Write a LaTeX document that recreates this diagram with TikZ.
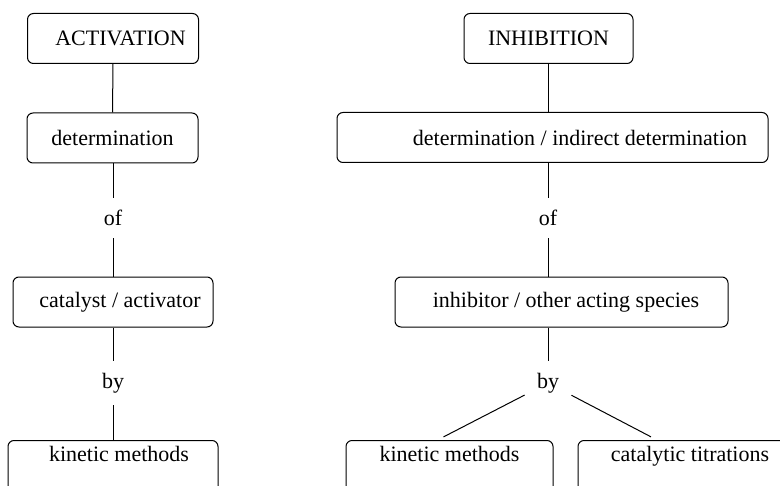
\documentclass[tikz,border=0pt]{standalone}
\usepackage{fontspec}
\setmainfont{Liberation Serif}
\tikzset{
  box/.style={draw, rounded corners=3pt, line width=0.5pt, minimum height=25pt, inner sep=2pt},
  openbox/.style={box, anchor=north, text height=8.5pt, text depth=30pt},
  word/.style={inner sep=6pt},
  link/.style={line width=0.5pt}
}
\begin{document}
\begin{tikzpicture}[x=0.5pt, y=-0.5pt, font=\fontsize{11}{13}\selectfont]
  \useasboundingbox (0,0) rectangle (780,486);
  \clip (0,0) rectangle (780,486);
  % activation side
  \node[box, minimum width=85.5pt] (act) at (113,38.5) {\hspace*{7.5pt}ACTIVATION};
  \node[box, minimum width=85.5pt] (detl) at (112.5,138) {determination};
  \node[word] (ofl) at (113,218) {of};
  \node[box, minimum width=100pt] (cat) at (113,302) {\hspace*{7pt}catalyst / activator};
  \node[word] (byl) at (113,383) {by};
  \node[openbox, minimum width=105pt] (kinl) at (113,440) {\hspace*{6pt}kinetic methods};
  % inhibition side
  \node[box, minimum width=84.5pt] (inh) at (548.5,38.5) {INHIBITION};
  \node[box, minimum width=215.5pt] (detr) at (552.5,137.5) {\hspace*{27.5pt}determination / indirect determination};
  \node[word] (ofr) at (548,218) {of};
  \node[box, minimum width=166.5pt] (inhib) at (561.5,302) {\hspace*{4.5pt}inhibitor / other acting species};
  \node[word] (byr) at (548,383) {by};
  \node[openbox, minimum width=103.5pt] (kinr) at (449.5,440) {kinetic methods};
  \node[openbox, minimum width=112pt] (tit) at (690,440) {catalytic titrations};
  % connectors
  \draw[link] (act) -- (detl);
  \draw[link] (detl.south -| ofl) -- (ofl);
  \draw[link] (ofl) -- (cat);
  \draw[link] (cat) -- (byl);
  \draw[link] (byl) -- (kinl);
  \draw[link] (inh) -- (detr.north -| inh);
  \draw[link] (detr.south -| ofr) -- (ofr);
  \draw[link] (ofr) -- (inhib.north -| ofr);
  \draw[link] (inhib.south -| byr) -- (byr);
  \draw[link, shorten >=3.4pt] (byr) -- ([xshift=-6pt]kinr.north);
  \draw[link, shorten >=3.4pt] (byr) -- ([xshift=-16.5pt]tit.north);
\end{tikzpicture}
\end{document}
